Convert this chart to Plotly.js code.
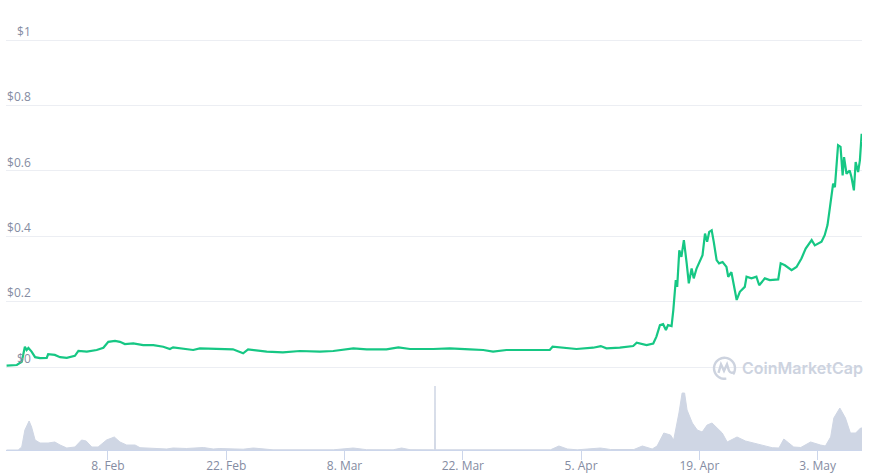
<!DOCTYPE html>
<html>
<head>
<meta charset="utf-8">
<script src="https://cdn.plot.ly/plotly-3.0.1.min.js"></script>
<style>
  html, body { margin: 0; padding: 0; background: #ffffff; }
  #chart { width: 874px; height: 476px; }
</style>
</head>
<body>
<div id="chart"></div>
<script>
// ---- Price series (USD) ----
const priceDates = [
  "2021-01-27 00:00","2021-01-28 05:00","2021-01-28 19:00","2021-01-29 04:00","2021-01-29 09:00",
  "2021-01-29 14:00","2021-01-29 23:00","2021-01-30 09:00","2021-01-30 23:00","2021-01-31 18:00",
  "2021-01-31 22:00","2021-02-01 17:00","2021-02-02 08:00","2021-02-03 03:00","2021-02-04 02:00",
  "2021-02-04 12:00","2021-02-05 12:00","2021-02-06 16:00","2021-02-07 11:00","2021-02-08 01:00",
  "2021-02-08 20:00","2021-02-09 10:00","2021-02-10 00:00","2021-02-11 00:00","2021-02-12 04:00",
  "2021-02-13 09:00","2021-02-14 13:00","2021-02-15 08:00","2021-02-15 17:00","2021-02-17 07:00",
  "2021-02-18 02:00","2021-02-18 21:00","2021-02-20 11:00","2021-02-21 06:00","2021-02-22 19:00",
  "2021-02-24 00:00","2021-02-24 14:00","2021-02-26 19:00","2021-02-28 17:00","2021-03-02 17:00",
  "2021-03-05 02:00","2021-03-06 16:00","2021-03-09 01:00","2021-03-10 15:00","2021-03-12 23:00",
  "2021-03-14 09:00","2021-03-15 18:00","2021-03-18 12:00","2021-03-20 11:00","2021-03-22 20:00",
  "2021-03-24 10:00","2021-03-25 14:00","2021-03-27 04:00","2021-03-30 08:00","2021-04-01 07:00",
  "2021-04-01 15:00","2021-04-03 07:00","2021-04-04 11:00","2021-04-06 10:00","2021-04-07 08:00",
  "2021-04-08 00:00","2021-04-09 14:00","2021-04-11 04:00","2021-04-11 14:00","2021-04-12 18:00",
  "2021-04-13 13:00","2021-04-13 22:00","2021-04-14 08:00","2021-04-14 17:00","2021-04-15 01:00",
  "2021-04-15 07:00","2021-04-15 17:00","2021-04-15 22:00","2021-04-16 05:00","2021-04-16 09:00",
  "2021-04-16 15:00","2021-04-16 21:00","2021-04-17 04:00","2021-04-17 12:00","2021-04-17 18:00",
  "2021-04-18 02:00","2021-04-18 08:00","2021-04-18 16:00","2021-04-19 01:00","2021-04-19 09:00",
  "2021-04-19 16:00","2021-04-19 22:00","2021-04-20 04:00","2021-04-20 11:00","2021-04-20 17:00",
  "2021-04-21 01:00","2021-04-21 08:00","2021-04-21 18:00","2021-04-22 05:00","2021-04-22 10:00",
  "2021-04-22 19:00","2021-04-23 00:00","2021-04-23 10:00","2021-04-23 19:00","2021-04-24 09:00",
  "2021-04-24 14:00","2021-04-25 04:00","2021-04-25 18:00","2021-04-26 02:00","2021-04-26 18:00",
  "2021-04-27 08:00","2021-04-28 08:00","2021-04-28 15:00","2021-04-29 03:00","2021-04-29 22:00",
  "2021-04-30 12:00","2021-05-01 02:00","2021-05-01 14:00","2021-05-02 07:00","2021-05-02 16:00",
  "2021-05-03 11:00","2021-05-03 20:00","2021-05-04 04:00","2021-05-04 11:00","2021-05-04 20:00",
  "2021-05-05 01:00","2021-05-05 10:00","2021-05-05 17:00","2021-05-05 23:00","2021-05-06 03:00",
  "2021-05-06 10:00","2021-05-06 19:00","2021-05-07 00:00","2021-05-07 07:00","2021-05-07 12:00",
  "2021-05-07 19:00","2021-05-08 00:00","2021-05-08 05:00","2021-05-08 06:00"
];
const priceValues = [
  0.004,0.006,0.016,0.062,0.052,
  0.058,0.047,0.030,0.027,0.028,
  0.039,0.037,0.030,0.028,0.034,
  0.049,0.047,0.052,0.059,0.077,
  0.080,0.077,0.070,0.072,0.067,
  0.067,0.062,0.055,0.060,0.055,
  0.052,0.057,0.055,0.055,0.054,
  0.042,0.054,0.047,0.045,0.049,
  0.047,0.049,0.057,0.054,0.054,
  0.060,0.055,0.055,0.057,0.054,
  0.052,0.047,0.052,0.052,0.052,
  0.062,0.057,0.055,0.059,0.064,
  0.057,0.059,0.064,0.074,0.067,
  0.072,0.093,0.128,0.131,0.113,
  0.128,0.125,0.174,0.266,0.245,
  0.357,0.337,0.388,0.317,0.256,
  0.301,0.271,0.301,0.321,0.342,
  0.408,0.383,0.413,0.418,0.382,
  0.327,0.317,0.321,0.306,0.276,
  0.290,0.260,0.205,0.230,0.245,
  0.276,0.271,0.276,0.250,0.271,
  0.266,0.268,0.317,0.311,0.296,
  0.306,0.332,0.362,0.388,0.372,
  0.383,0.403,0.434,0.489,0.561,
  0.550,0.678,0.673,0.586,0.642,
  0.591,0.601,0.581,0.540,0.627,
  0.596,0.632,0.713,0.690
];

// ---- Volume (relative units) ----
const volumeDates = [
  "2021-01-27 00:00","2021-01-28 09:00","2021-01-28 19:00","2021-01-29 04:00","2021-01-29 16:00",
  "2021-01-29 23:00","2021-01-30 09:00","2021-01-30 23:00","2021-01-31 22:00","2021-02-01 17:00",
  "2021-02-02 08:00","2021-02-03 03:00","2021-02-04 02:00","2021-02-04 21:00","2021-02-05 10:00",
  "2021-02-06 02:00","2021-02-06 20:00","2021-02-07 20:00","2021-02-08 18:00","2021-02-09 10:00",
  "2021-02-10 05:00","2021-02-11 05:00","2021-02-11 19:00","2021-02-12 14:00","2021-02-13 18:00",
  "2021-02-14 23:00","2021-02-15 17:00","2021-02-17 07:00","2021-02-19 07:00","2021-02-20 11:00",
  "2021-02-21 06:00","2021-02-22 20:00","2021-02-24 00:00","2021-02-25 05:00","2021-02-26 19:00",
  "2021-02-27 13:00","2021-03-06 16:00","2021-03-09 01:00","2021-03-10 15:00","2021-03-13 18:00",
  "2021-03-14 18:00","2021-03-15 18:00","2021-03-18 12:00","2021-03-18 16:00","2021-03-18 17:00",
  "2021-03-18 18:00","2021-03-18 23:00","2021-04-01 09:00","2021-04-02 09:00","2021-04-03 09:00",
  "2021-04-04 13:00","2021-04-07 07:00","2021-04-08 12:00","2021-04-11 06:00","2021-04-12 06:00",
  "2021-04-13 10:00","2021-04-14 00:00","2021-04-14 19:00","2021-04-15 14:00","2021-04-15 23:00",
  "2021-04-16 14:00","2021-04-16 23:00","2021-04-17 06:00","2021-04-17 13:00","2021-04-18 04:00",
  "2021-04-18 18:00","2021-04-19 08:00","2021-04-19 22:00","2021-04-20 12:00","2021-04-21 03:00",
  "2021-04-21 17:00","2021-04-22 07:00","2021-04-23 11:00","2021-04-24 11:00","2021-04-25 11:00",
  "2021-04-26 10:00","2021-04-27 15:00","2021-04-28 10:00","2021-04-29 00:00","2021-04-29 14:00",
  "2021-04-30 04:00","2021-05-01 00:00","2021-05-02 04:00","2021-05-03 08:00","2021-05-03 22:00",
  "2021-05-04 13:00","2021-05-04 22:00","2021-05-05 15:00","2021-05-06 07:00","2021-05-06 21:00",
  "2021-05-07 12:00","2021-05-08 02:00","2021-05-08 06:00"
];
const volumeValues = [
  0,0,3,20,29,
  23,10,7,7,8,
  5,2,3,10,9,
  3,3,10,13,8,
  5,5,2.3,2,1.5,
  1,2,1.5,2.5,1,
  1.5,1.5,0.8,2,1,
  0.2,0.2,2,0.3,0.2,
  2,0.3,0.2,0.2,64,
  0.2,0.2,0.2,4,1,
  0.2,2,0.5,0.5,4,
  1,4,17,15,10,
  37,57,57,40,27,
  20,18,25,27,22,
  17,8,13,9,7,
  5,2.3,2,11,7,
  3,2.5,8,5,4,
  13,32,42,32,17,
  17,22,22
];

const tickColor = "#ccd6eb";
const textColor = "#858ca2";
const gridColor = "#eceef3";

// plot box in pixels: top at 37, price zero at 367, volume baseline at 450
const plotTop = 37, priceZeroY = 367, baseY = 450;
const pxPerDollar = 327;
const priceDomainBottom = (baseY - priceZeroY) / (baseY - plotTop);
const priceRange = [0, (priceZeroY - plotTop) / pxPerDollar];

// CoinMarketCap watermark logo (decorative), built in pixel units around an anchor
function arcPath(r, a0, a1, n) {
  let p = "";
  for (let i = 0; i <= n; i++) {
    const a = (a0 + (a1 - a0) * i / n) * Math.PI / 180;
    p += (i === 0 ? "M " : " L ") + (r * Math.cos(a)).toFixed(2) + "," + (r * Math.sin(a)).toFixed(2);
  }
  return p;
}
const logoAnchorX = (724.5 - 6) / 856, logoAnchorY = (baseY - 368.3) / (baseY - plotTop);
const logoShapes = [
  {
    type: "path", xref: "paper", yref: "paper", xsizemode: "pixel", ysizemode: "pixel",
    xanchor: logoAnchorX, yanchor: logoAnchorY,
    path: arcPath(10.5, -35, 280, 40),
    line: { color: "#cdd3df", width: 2.4 }
  },
  {
    type: "path", xref: "paper", yref: "paper", xsizemode: "pixel", ysizemode: "pixel",
    xanchor: logoAnchorX, yanchor: logoAnchorY,
    path: "M -6,-4.5 L -3.5,4 L -0.5,-2.5 L 2.5,4 L 4.5,-2.5 Q 6,-5.5 9,-4",
    line: { color: "#cdd3df", width: 2.4 }
  }
];

const traces = [
  {
    type: "scatter", mode: "lines", x: volumeDates, y: volumeValues,
    xaxis: "x", yaxis: "y2", fill: "tozeroy",
    fillcolor: "#cfd6e4", line: { color: "#cfd6e4", width: 1 },
    hoverinfo: "skip"
  },
  {
    // invisible copy on the label axis so that its tick labels are drawn
    type: "scatter", mode: "lines", x: priceDates, y: priceValues,
    xaxis: "x", yaxis: "y3", opacity: 0, line: { width: 0 }, hoverinfo: "skip"
  },
  {
    type: "scatter", mode: "lines", x: priceDates, y: priceValues,
    xaxis: "x", yaxis: "y",
    line: { color: "#16c784", width: 2.2 }
  }
];

const layout = {
  width: 874, height: 476,
  margin: { l: 6, r: 12, t: plotTop, b: 476 - baseY },
  paper_bgcolor: "#ffffff", plot_bgcolor: "#ffffff",
  showlegend: false,
  font: { family: "Open Sans, Arial, sans-serif", size: 12, color: textColor },
  xaxis: {
    type: "date", anchor: "y2",
    range: ["2021-01-26 22:20", "2021-05-08 06:00"],
    tick0: "2021-02-08", dtick: 14 * 86400000, tickformat: "%-d. %b",
    showgrid: false, zeroline: false,
    showline: true, linecolor: tickColor, linewidth: 1,
    ticks: "outside", ticklen: 9, tickcolor: tickColor, tickwidth: 1,
    ticklabelstandoff: -4,
    tickfont: { size: 12, color: textColor }
  },
  yaxis: {
    domain: [priceDomainBottom, 1], range: priceRange,
    tick0: 0, dtick: 0.2,
    showgrid: true, gridcolor: gridColor, gridwidth: 1,
    zeroline: true, zerolinecolor: gridColor, zerolinewidth: 1,
    showticklabels: false, ticks: "", showline: false
  },
  yaxis3: {
    overlaying: "y", anchor: "free", position: 0.029, side: "left",
    range: priceRange, tick0: 0, dtick: 0.2, tickprefix: "$",
    showgrid: false, zeroline: false, showline: false, ticks: "",
    ticklabelposition: "outside top",
    tickfont: { size: 12, color: textColor }
  },
  yaxis2: {
    domain: [0, priceDomainBottom], range: [0, 83],
    visible: false, showgrid: false, zeroline: false
  },
  shapes: logoShapes,
  annotations: [
    {
      xref: "paper", yref: "paper", x: (740 - 6) / 856, y: logoAnchorY, xanchor: "left", yanchor: "middle",
      text: "CoinMarketCap", showarrow: false,
      font: { family: "Inter, Lato, sans-serif", size: 16, weight: 600, color: "#cdd3df" }
    }
  ]
};

Plotly.newPlot("chart", traces, layout, { displayModeBar: false, staticPlot: true });
</script>
</body>
</html>
